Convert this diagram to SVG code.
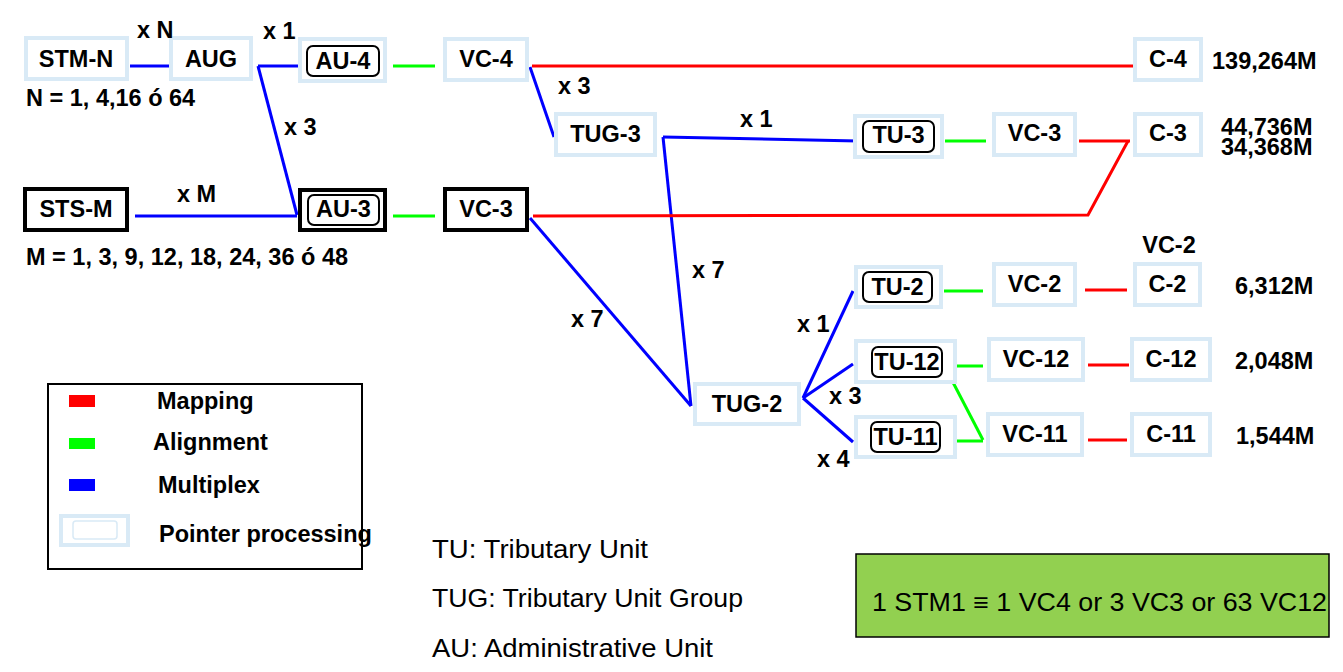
<svg xmlns="http://www.w3.org/2000/svg" width="1343" height="672" viewBox="0 0 1343 672">
<style>
  .pp { fill: #ffffff; stroke: #d9eaf6; stroke-width: 4; }
  .bk { fill: #ffffff; stroke: #000000; stroke-width: 4; }
  .in { fill: #ffffff; stroke: #000000; stroke-width: 2; }
  .t { font-family: "Liberation Sans", Arial, sans-serif; font-weight: bold; font-size: 23.5px; fill: #000000; }
  .c { text-anchor: middle; }
  .n { font-family: "Liberation Sans", Arial, sans-serif; font-size: 25px; fill: #000000; }
  .mux { stroke: #0000ff; stroke-width: 3; fill: none; }
  .aln { stroke: #00ff00; stroke-width: 3; fill: none; }
  .map { stroke: #ff0000; stroke-width: 3; fill: none; }
</style>
<rect x="0" y="0" width="1343" height="672" fill="#ffffff"/>

<g id="connectors">
  <line class="mux" x1="130" y1="66" x2="169" y2="66"/>
  <line class="mux" x1="258" y1="66" x2="298" y2="66"/>
  <line class="mux" x1="258" y1="66" x2="297" y2="215"/>
  <line class="mux" x1="135" y1="216" x2="297" y2="216"/>
  <line class="mux" x1="530" y1="67" x2="554" y2="137"/>
  <line class="mux" x1="663" y1="137" x2="858" y2="141"/>
  <line class="mux" x1="663" y1="137" x2="691" y2="406"/>
  <line class="mux" x1="530" y1="218" x2="691" y2="406"/>
  <line class="mux" x1="803" y1="398" x2="853" y2="291"/>
  <line class="mux" x1="803" y1="398" x2="853" y2="364"/>
  <line class="mux" x1="803" y1="398" x2="853" y2="442"/>

  <line class="aln" x1="393" y1="66" x2="435" y2="66"/>
  <line class="aln" x1="393" y1="216" x2="435" y2="216"/>
  <line class="aln" x1="945" y1="141" x2="986" y2="141"/>
  <line class="aln" x1="944" y1="291" x2="983" y2="291"/>
  <line class="aln" x1="943" y1="366" x2="983" y2="366"/>
  <line class="aln" x1="945" y1="367" x2="983" y2="440"/>
  <line class="aln" x1="943" y1="441" x2="983" y2="441"/>

  <line class="map" x1="532" y1="66" x2="1133" y2="66"/>
  <line class="map" x1="1079" y1="141" x2="1130" y2="141"/>
  <polyline class="map" points="533,216 1088,215 1128,141"/>
  <line class="map" x1="1085" y1="290" x2="1127" y2="290"/>
  <line class="map" x1="1088" y1="365" x2="1129" y2="365"/>
  <line class="map" x1="1088" y1="440" x2="1127" y2="440" stroke-width="4"/>
</g>

<g id="stm-n"><rect class="pp" x="26" y="38" width="101" height="41"/><text class="t c" x="76" y="67">STM-N</text></g>
<g id="aug"><rect class="pp" x="171" y="38" width="80" height="41"/><text class="t c" x="211" y="67">AUG</text></g>
<g id="au-4"><rect class="pp" x="300" y="39" width="85" height="42"/><rect class="in" x="307" y="46" width="72" height="30" rx="6"/><text class="t c" x="343" y="69">AU-4</text></g>
<g id="vc-4"><rect class="pp" x="445" y="39" width="82" height="41"/><text class="t c" x="486" y="67">VC-4</text></g>
<g id="c-4"><rect class="pp" x="1135" y="39" width="66" height="41"/><text class="t c" x="1168" y="67">C-4</text></g>
<g id="tug-3"><rect class="pp" x="556" y="114" width="99" height="41"/><text class="t c" x="605.5" y="142">TUG-3</text></g>
<g id="tu-3"><rect class="pp" x="855" y="116" width="87" height="41"/><rect class="in" x="863" y="121" width="71" height="31" rx="6"/><text class="t c" x="898.5" y="143">TU-3</text></g>
<g id="vc-3a"><rect class="pp" x="994" y="114" width="81" height="41"/><text class="t c" x="1034.5" y="141">VC-3</text></g>
<g id="c-3"><rect class="pp" x="1135" y="114" width="66" height="41"/><text class="t c" x="1168" y="141">C-3</text></g>
<g id="sts-m"><rect class="bk" x="25" y="189" width="102" height="41"/><text class="t c" x="76" y="217">STS-M</text></g>
<g id="au-3"><rect class="bk" x="300" y="190" width="85" height="40"/><rect class="in" x="308" y="195" width="71" height="30" rx="6"/><text class="t c" x="343.5" y="217">AU-3</text></g>
<g id="vc-3b"><rect class="bk" x="445" y="189" width="82" height="41"/><text class="t c" x="486" y="217">VC-3</text></g>
<g id="tug-2"><rect class="pp" x="695" y="384" width="104" height="40"/><text class="t c" x="747" y="412">TUG-2</text></g>
<g id="tu-2"><rect class="pp" x="856" y="267" width="85" height="40"/><rect class="in" x="863" y="272" width="69" height="30" rx="6"/><text class="t c" x="897.5" y="295">TU-2</text></g>
<g id="tu-12"><rect class="pp" x="856" y="341" width="99" height="41"/><rect class="in" x="872" y="347" width="70" height="30" rx="6"/><text class="t c" x="907" y="370">TU-12</text></g>
<g id="tu-11"><rect class="pp" x="856" y="417" width="99" height="40"/><rect class="in" x="871" y="422" width="69" height="30" rx="6"/><text class="t c" x="905.5" y="445">TU-11</text></g>
<g id="vc-2"><rect class="pp" x="994" y="264" width="81" height="41"/><text class="t c" x="1034.5" y="292">VC-2</text></g>
<g id="c-2"><rect class="pp" x="1135" y="264" width="65" height="41"/><text class="t c" x="1167.5" y="292">C-2</text></g>
<g id="vc-12"><rect class="pp" x="989" y="339" width="94" height="41"/><text class="t c" x="1036" y="367">VC-12</text></g>
<g id="c-12"><rect class="pp" x="1132" y="339" width="78" height="41"/><text class="t c" x="1171" y="367">C-12</text></g>
<g id="vc-11"><rect class="pp" x="988" y="414" width="94" height="41"/><text class="t c" x="1035" y="442">VC-11</text></g>
<g id="c-11"><rect class="pp" x="1132" y="414" width="78" height="41"/><text class="t c" x="1171" y="442">C-11</text></g>

<g id="labels">
  <text class="t" x="137" y="38">x N</text>
  <text class="t" x="263" y="39">x 1</text>
  <text class="t" x="284" y="135">x 3</text>
  <text class="t" x="177" y="202">x M</text>
  <text class="t" x="558" y="94">x 3</text>
  <text class="t" x="740" y="127">x 1</text>
  <text class="t" x="571" y="327">x 7</text>
  <text class="t" x="692" y="278">x 7</text>
  <text class="t" x="797" y="332">x 1</text>
  <text class="t" x="829" y="404">x 3</text>
  <text class="t" x="817" y="467">x 4</text>
  <text class="t" x="26" y="106">N = 1, 4,16 ó 64</text>
  <text class="t" x="26" y="265">M = 1, 3, 9, 12, 18, 24, 36 ó 48</text>
  <text class="t" x="1212" y="69">139,264M</text>
  <text class="t" x="1221" y="135">44,736M<tspan x="1221" y="155">34,368M</tspan></text>
  <text class="t c" x="1169" y="253">VC-2</text>
  <text class="t" x="1235" y="294">6,312M</text>
  <text class="t" x="1235" y="369">2,048M</text>
  <text class="t" x="1236" y="444">1,544M</text>
</g>

<g id="legend">
  <rect x="48" y="384" width="314" height="185" fill="#ffffff" stroke="#000000" stroke-width="2"/>
  <rect x="69" y="395" width="26" height="12" fill="#ff0000"/>
  <rect x="69" y="438" width="26" height="11" fill="#00ff00"/>
  <rect x="69" y="479" width="26" height="12" fill="#0000ff"/>
  <rect class="pp" x="61" y="516" width="67" height="29"/>
  <rect x="73" y="521" width="44" height="18" rx="3" fill="#ffffff" stroke="#d9eaf6" stroke-width="1.5"/>
  <text class="t" x="157" y="409">Mapping</text>
  <text class="t" x="153" y="450">Alignment</text>
  <text class="t" x="158" y="493">Multiplex</text>
  <text class="t" x="159" y="542">Pointer processing</text>
</g>

<g id="notes">
  <text class="n" x="432" y="558" textLength="216" lengthAdjust="spacingAndGlyphs">TU: Tributary Unit</text>
  <text class="n" x="432" y="607" textLength="311" lengthAdjust="spacingAndGlyphs">TUG: Tributary Unit Group</text>
  <text class="n" x="432" y="657" textLength="281" lengthAdjust="spacingAndGlyphs">AU: Administrative Unit</text>
</g>

<g id="summary">
  <rect x="856" y="554" width="473" height="83" fill="#92d050" stroke="#000000" stroke-width="1.5"/>
  <text class="n" x="872" y="611" font-size="29" textLength="455" lengthAdjust="spacingAndGlyphs">1 STM1 ≡ 1 VC4 or 3 VC3 or 63 VC12</text>
</g>
</svg>
